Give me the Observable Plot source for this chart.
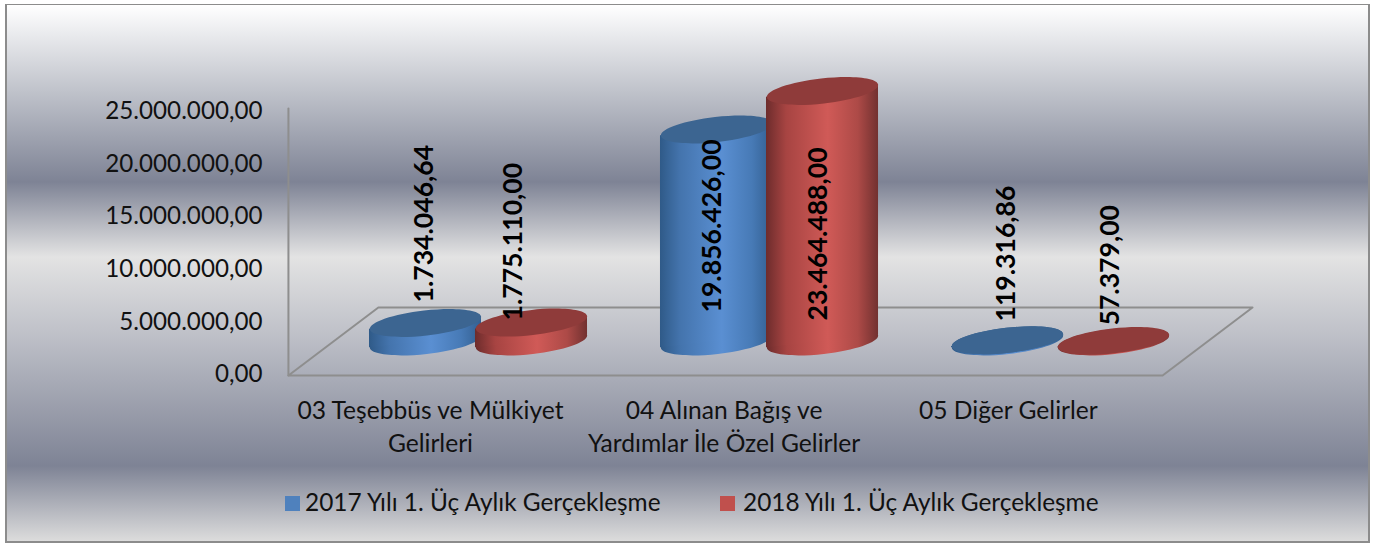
<!DOCTYPE html>
<html lang="tr">
<head>
<meta charset="utf-8">
<script src="https://cdn.jsdelivr.net/npm/d3@7"></script>
<script src="https://cdn.jsdelivr.net/npm/@observablehq/plot@0.6"></script>
<style>
  html, body { margin: 0; padding: 0; background: #fff; }
  #frame { position: relative; width: 1375px; height: 543px; overflow: hidden; background: #fff; }
  #panel {
    position: absolute; left: 5px; top: 4px; width: 1361px; height: 536px;
    border: 2px solid #8c8c8c; box-sizing: content-box; border-width: 1px 2px 2px 2px;
    background: linear-gradient(180deg, #ffffff 0%, #c0c3cb 16%, #7e8395 33%, #e3e3e3 47%, #bdbfc7 62%, #7e8395 86%, #dcdcdc 100%);
  }
  #chart { position: absolute; left: 0; top: 0; }
  #legend {
    position: absolute; left: 0; top: 486px; width: 1375px; height: 32px;
    font: 24.4px Lato, sans-serif; color: #111; white-space: nowrap;
  }
  #legend span { position: absolute; top: 0; line-height: 32px; }
  #legend i { position: absolute; top: 10px; width: 15px; height: 15px; }
</style>
</head>
<body>
<div id="frame">
  <div id="panel"></div>
  <div id="chart"></div>
  <div id="legend"></div>
</div>
<script>
// ---- data
const categories = ["03 Teşebbüs ve Mülkiyet\nGelirleri", "04 Alınan Bağış ve\nYardımlar İle Özel Gelirler", "05 Diğer Gelirler"];
const seriesNames = ["2017 Yılı 1. Üç Aylık Gerçekleşme", "2018 Yılı 1. Üç Aylık Gerçekleşme"];
const values2017 = [1734046.64, 19856426.00, 119316.86];
const values2018 = [1775110.00, 23464488.00, 57379.00];
const yTicks = [0, 5000000, 10000000, 15000000, 20000000, 25000000];

// ---- perspective of the pseudo-3D floor, in scale units
const floorX = [-0.471, -0.162, 2.842, 2.533, -0.471];
const floorY = [-190000, 6270000, 6270000, -190000, -190000];
const wallX = [-0.471, -0.471];
const wallY = [25190000, -190000];
const floorBase = 3040000;      // value level where the cylinders stand
const heightScale = 1.015;      // cylinders stand further back than the wall
const seriesStep = 0.3643;      // x distance between the two cylinders of a group
const halfWidth = 0.1925;       // half a cylinder width
const categoryLevel = -2115000; // value level of the category labels' top
const categoryX = [0.017, 1.026, 2.003];

// hand-placed data labels: [x shift in scale units, value level where the text begins]
const label2017Shift = [-0.003, -0.014, -0.003];
const label2018Shift = [-0.062, -0.014, -0.010];
const label2017Level = [6750000, 5800000, 4940000];
const label2018Level = [5040000, 5040000, 4560000];

const fmt = v => new Intl.NumberFormat("tr-TR", {minimumFractionDigits: 2, maximumFractionDigits: 2}).format(v);

// a tilted flat ellipse as a Plot symbol
function tilted(a, b, deg) {
  const t = deg * Math.PI / 180, c = Math.cos(t), s = Math.sin(t), k = 0.5523;
  const P = (x, y) => [x * c - y * s, x * s + y * c];
  return {
    draw(ctx) {
      ctx.moveTo(...P(a, 0));
      ctx.bezierCurveTo(...P(a, k * b), ...P(k * a, b), ...P(0, b));
      ctx.bezierCurveTo(...P(-k * a, b), ...P(-a, k * b), ...P(-a, 0));
      ctx.bezierCurveTo(...P(-a, -k * b), ...P(-k * a, -b), ...P(0, -b));
      ctx.bezierCurveTo(...P(k * a, -b), ...P(a, -k * b), ...P(a, 0));
      ctx.closePath();
    }
  };
}
const disc = tilted(56, 12.5, -6.5);
const skewValue = 600000;   // vertical offset of the silhouette edges, from the tilt

const build = (vals, s) => vals.map((v, i) => ({
  id: i, cx: i + s * seriesStep, base: floorBase, top: floorBase + v * heightScale, v
}));
const c2017 = build(values2017, 0);
const c2018 = build(values2018, 1);
const sil = rows => rows.flatMap(d => [
  {id: d.id, x: d.cx - halfWidth, y1: d.base - skewValue, y2: d.top - skewValue},
  {id: d.id, x: d.cx + halfWidth, y1: d.base + skewValue, y2: d.top + skewValue}
]);
const cylinder = (rows, grad, topFill) => [
  ...rows.map(d => Plot.dot([d], {x: "cx", y: "base", symbol: disc, r: 10, fill: `url(#${grad})`, stroke: "none"})),
  Plot.areaY(sil(rows), {x: "x", y1: "y1", y2: "y2", z: "id", fill: `url(#${grad})`, curve: "linear"}),
  Plot.dot(rows, {x: "cx", y: "top", symbol: disc, r: 10, fill: topFill, stroke: "none"})
];
const labels = (vals, s, shift, level) => Plot.text(vals.map((v, i) => ({
  x: i + s * seriesStep + shift[i], y: level[i], t: fmt(v)
})), {x: "x", y: "y", text: "t", rotate: -90, textAnchor: "start", fontSize: 26.6, fontWeight: 700, fontFamily: "Lato, sans-serif", fill: "#000"});

const chart = Plot.plot({
  width: 1375, height: 543,
  marginLeft: 264, marginRight: 0, marginTop: 0, marginBottom: 0,
  style: {background: "transparent", fontFamily: "Lato, sans-serif"},
  x: {domain: [0, 2], range: [425, 1007], axis: null},
  y: {domain: [0, 25000000], range: [373, 110], axis: null},
  marks: [
    Plot.axisY({ticks: yTicks, tickSize: 0, tickPadding: 2, tickFormat: fmt, label: null, fontSize: 24.2, dy: 1, fill: "#111", fontFamily: "Lato, sans-serif"}),
    Plot.line(floorX.map((x, i) => ({x, y: floorY[i]})), {x: "x", y: "y", stroke: "#8e8e8e", strokeWidth: 2}),
    Plot.line(wallX.map((x, i) => ({x, y: wallY[i]})), {x: "x", y: "y", stroke: "#8e8e8e", strokeWidth: 2}),
    ...cylinder(c2017, "gBlue", "#3c6591"),
    ...cylinder(c2018, "gRed", "#8f3b3a"),
    Plot.dot(c2017.slice(2), {x: "cx", y: "top", symbol: disc, r: 10, fill: "#3c6591", stroke: "none"}),
    labels(values2017, 0, label2017Shift, label2017Level),
    labels(values2018, 1, label2018Shift, label2018Level),
    Plot.text(categories, {x: categoryX, y: categories.map(() => categoryLevel), text: d => d, lineHeight: 1.34, textAnchor: "middle", lineAnchor: "top", fontSize: 24.6, fill: "#111", fontFamily: "Lato, sans-serif"})
  ]
});

// gradients used as cylinder body fills
const defs = d3.select(chart).insert("defs", ":first-child");
const grad = (id, stops) => {
  const g = defs.append("linearGradient").attr("id", id).attr("x1", 0).attr("x2", 1).attr("y1", 0).attr("y2", 0);
  stops.forEach(([o, c]) => g.append("stop").attr("offset", o).attr("stop-color", c));
};
grad("gBlue", [[0, "#2f5a88"], [0.18, "#4474ad"], [0.55, "#5a8fd2"], [0.82, "#477ab6"], [1, "#335f90"]]);
grad("gRed", [[0, "#6d2c2c"], [0.18, "#a74442"], [0.55, "#d05a57"], [0.82, "#ad4a47"], [1, "#723130"]]);
document.getElementById("chart").appendChild(chart);

// legend overlaid on the same panel
const legend = d3.select("#legend");
[["#4f81bd", 285, 305], ["#c0504d", 720, 743]].forEach(([c, bx, tx], i) => {
  legend.append("i").style("left", bx + "px").style("background", c);
  legend.append("span").style("left", tx + "px").text(seriesNames[i]);
});
</script>
</body>
</html>
